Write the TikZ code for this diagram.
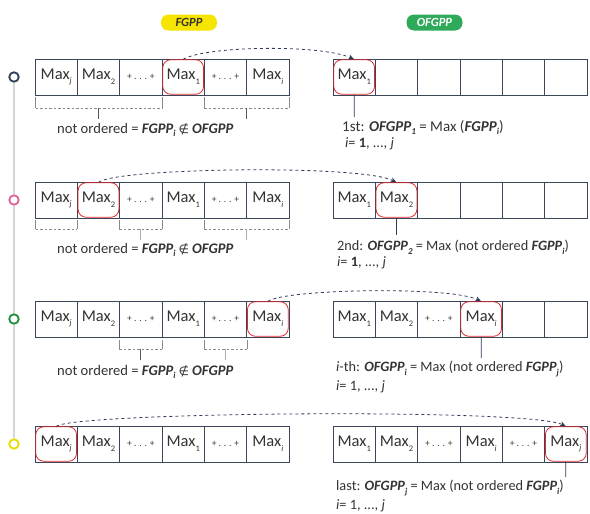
\documentclass[tikz,border=0pt]{standalone}
\usepackage{fontspec}
\setmainfont{Carlito}
\newfontfamily\symfont{DejaVu Sans}
\usetikzlibrary{arrows.meta,fit}
\definecolor{navy}{HTML}{2E3B55}
\definecolor{cellc}{HTML}{3B4658}
\definecolor{txtc}{HTML}{333333}
\definecolor{hlred}{HTML}{E0262A}
\definecolor{pillyel}{HTML}{F6E500}
\definecolor{pillgrn}{HTML}{2EAA5A}
\definecolor{brkc}{HTML}{8A8A8A}
\definecolor{railc}{HTML}{D6D6D6}
\definecolor{dotpink}{HTML}{E0609A}
\definecolor{dotgreen}{HTML}{1E8C3A}
\definecolor{dotyellow}{HTML}{E8DA00}
% small lowered index used after "Max" and the group names
\newcommand\msb[1]{\raisebox{-0.6ex}{\fontsize{8.5}{8.5}\selectfont #1}}
\newcommand\bsb[1]{\raisebox{-0.55ex}{\fontsize{9}{9}\selectfont\bfseries\itshape #1}}
\newcommand\gapcell{\fontsize{9.5}{9.5}\selectfont + . . . +}
\newcommand\GP{\textbf{\textit{FGPP}}}
\newcommand\OGP{\textbf{\textit{OFGPP}}}
\newcommand\fs[1]{\fontsize{#1}{#1}\selectfont}
\tikzset{
  cell/.style={draw=cellc, line width=0.9pt, minimum width=42.33pt, minimum height=36pt,
    inner sep=0pt, text=txtc, font=\fs{16.5}},
  hl/.style={draw=hlred, line width=0.8pt, rounded corners=8pt, inner sep=-1.2pt},
  link/.style={navy, dashed, line width=0.8pt, -{Stealth[length=6pt,width=5pt]}},
  brk/.style={brkc, line width=0.7pt},
  brkd/.style={brkc, line width=0.7pt, dash pattern=on 2.5pt off 2pt},
  stem/.style={navy, line width=0.8pt},
  note/.style={anchor=west, inner sep=0pt, text=txtc},
  rnote/.style={note, font=\fs{14.3}},
  pill/.style={rounded corners=7.5pt, minimum width=56pt, minimum height=16pt, inner sep=0pt,
    font=\fs{12.5}\bfseries\itshape},
  dot/.style={circle, draw, fill=white, line width=1.8pt, minimum size=9.5pt, inner sep=0pt}
}
% the unordered array, same in every row
\newcommand\leftrow[2]{%
  \node[cell] (#1a) at (56.17,#2)  {Max\msb{\itshape j}};
  \node[cell] (#1b) at (98.50,#2)  {Max\msb{2}};
  \node[cell] (#1c) at (140.83,#2) {\gapcell};
  \node[cell] (#1d) at (183.17,#2) {Max\msb{1}};
  \node[cell] (#1e) at (225.50,#2) {\gapcell};
  \node[cell] (#1f) at (267.83,#2) {Max\msb{\itshape i}};
}
% the ordered array being filled
\newcommand\rightrow[8]{%
  \node[cell] (#1a) at (354.17,#2) {#3};
  \node[cell] (#1b) at (396.50,#2) {#4};
  \node[cell] (#1c) at (438.83,#2) {#5};
  \node[cell] (#1d) at (481.17,#2) {#6};
  \node[cell] (#1e) at (523.50,#2) {#7};
  \node[cell] (#1f) at (565.83,#2) {#8};
}
% dashed bracket under a group of cells
\newcommand\bracket[4]{% x1, x2, ytop, ybar
  \draw[brk] (#1,#3) -- (#1,#4);
  \draw[brk] (#2,#3) -- (#2,#4);
  \draw[brkd] (#1,#4) -- (#2,#4);
}
\newcommand\bracketstem[6]{% x1, x2, ytop, ybar, ystem, colour
  \bracket{#1}{#2}{#3}{#4}
  \draw[#6, line width=0.8pt] ({(#1+#2)/2},#4) -- ({(#1+#2)/2},#5);
}
\newcommand\notordered{not ordered = \GP\bsb{i}\hspace{3pt}{\symfont\fs{12}∉}\hspace{3pt}\OGP}
\begin{document}
\begin{tikzpicture}[x=1pt,y=-1pt]
\useasboundingbox (0,0) rectangle (590,514);

% headers
\node[pill, fill=pillyel, text=black!80] (hF) at (189,22.5) {FGPP};
\node[pill, fill=pillgrn, text=white] (hO) at (434.5,22.5) {OFGPP};

% timeline on the left
\node[dot, draw=navy] (d1) at (14,77) {};
\node[dot, draw=dotpink] (d2) at (14,200) {};
\node[dot, draw=dotgreen] (d3) at (14,319) {};
\node[dot, draw=dotyellow] (d4) at (14,444) {};
\draw[railc, line width=1.6pt] (d1.south) -- (d2.north);
\draw[railc, line width=1.6pt] (d2.south) -- (d3.north);
\draw[railc, line width=1.6pt] (d3.south) -- (d4.north);

% ---------- step 1 ----------
\leftrow{A}{77}
\rightrow{P}{77}{Max\msb{1}}{}{}{}{}{}
\node[hl, fit=(Ad)] (hA) {};
\node[hl, fit=(Pa)] (hP) {};
\draw[link] (hA.north) .. controls (205,46) and (320,44) .. (hP.north);
\bracketstem{35.5}{162}{97}{108}{119}{black!65}
\bracketstem{204}{289}{97}{108}{119}{black!65}
\node[note, font=\fs{14.6}] (nA) at (57,130) {\notordered};
\draw[stem] (hP.south) -- (354.2,117);
\node[note, font=\fs{15}] (tP) at (342,127.5) {1st: \OGP\bsb{1} = Max (\GP\bsb{i})};
\node[rnote] (sP) at (345,144) {\textit{i}= \textbf{1}, ..., \textit{j}};

% ---------- step 2 ----------
\leftrow{B}{200}
\rightrow{Q}{200}{Max\msb{1}}{Max\msb{2}}{}{}{}{}
\node[hl, fit=(Bb)] (hB) {};
\node[hl, fit=(Qb)] (hQ) {};
\draw[link] (hB.north) .. controls (115,168) and (360,164) .. (hQ.north);
\bracket{35.5}{77}{220}{229}
\bracketstem{119}{162}{220}{229}{240}{brkc!70}
\bracketstem{204}{289}{220}{229}{240}{brkc!70}
\node[note, font=\fs{14.6}] (nB) at (57,250) {\notordered};
\draw[stem] (hQ.south) -- (396.5,235);
\node[rnote] (tQ) at (337,247) {2nd: \OGP\bsb{2} = Max (not ordered \GP\bsb{i})};
\node[rnote] (sQ) at (337,263) {\textit{i}= \textbf{1}, ..., \textit{j}};

% ---------- step 3 ----------
\leftrow{C}{319}
\rightrow{R}{319}{Max\msb{1}}{Max\msb{2}}{\gapcell}{Max\msb{\itshape i}}{}{}
\node[hl, fit=(Cf)] (hC) {};
\node[hl, fit=(Rd)] (hR) {};
\draw[link] (hC.north) .. controls (285,289) and (450,286) .. (hR.north);
\bracketstem{119}{162}{340}{349}{360}{black!65}
\bracketstem{204}{247}{340}{349}{360}{brkc!70}
\node[note, font=\fs{14.6}] (nC) at (57,372) {\notordered};
\draw[stem] (hR.south) -- (481.2,358);
\node[rnote] (tR) at (336,369) {\textit{i}-th: \OGP\bsb{i} = Max (not ordered \GP\bsb{j})};
\node[rnote] (sR) at (336,387) {\textit{i}= 1, ..., \textit{j}};

% ---------- step 4 ----------
\leftrow{D}{444}
\rightrow{S}{444}{Max\msb{1}}{Max\msb{2}}{\gapcell}{Max\msb{\itshape i}}{\gapcell}{Max\msb{\itshape j}}
\node[hl, fit=(Da)] (hD) {};
\node[hl, fit=(Sf)] (hS) {};
\draw[link] (hD.north) .. controls (75,412) and (530,408) .. (hS.north);
\draw[stem] (hS.south) -- (565.8,477);
\node[rnote] (tS) at (336,488) {last: \OGP\bsb{j} = Max (not ordered \GP\bsb{i})};
\node[rnote] (sS) at (336,506) {\textit{i}= 1, ..., \textit{j}};
\end{tikzpicture}
\end{document}
